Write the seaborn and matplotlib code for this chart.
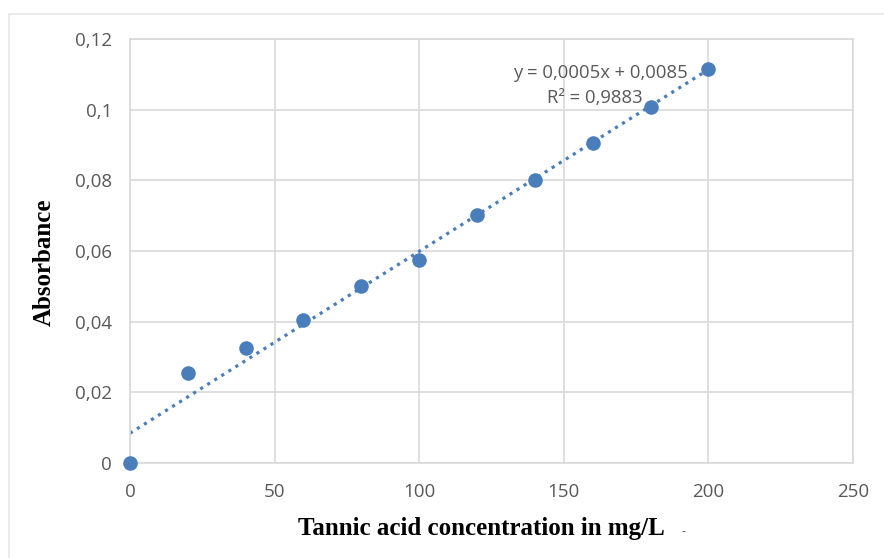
import numpy as np
import matplotlib
matplotlib.use("Agg")
import matplotlib.pyplot as plt
import seaborn as sns

concentration = [0, 20, 40, 60, 80, 100, 120, 140, 160, 180, 200]
absorbance = [0.0, 0.0255, 0.0325, 0.0405, 0.050, 0.0575, 0.0702, 0.080, 0.0906, 0.1008, 0.1115]
x_ticks = [0, 50, 100, 150, 200, 250]
y_ticks = [0, 0.02, 0.04, 0.06, 0.08, 0.10, 0.12]
y_ticklabels = ["0", "0,02", "0,04", "0,06", "0,08", "0,1", "0,12"]
eq_text = "y = 0,0005x + 0,0085"
r2_text = "R² = 0,9883"

sns.set_style("whitegrid")
plt.rcParams['font.family'] = ['Open Sans', 'DejaVu Sans']

blue = "#4A7EBB"
grid_col = "#D9D9D9"
tick_col = "#595959"

fig = plt.figure(figsize=(8.84, 5.58), dpi=100)
ax = fig.add_axes([0.147, 0.170, 0.818, 0.760])

# linear trendline fitted to the data
slope, intercept = np.polyfit(concentration, absorbance, 1)
xs = np.array([concentration[0], concentration[-1]])
ax.plot(xs, slope * xs + intercept, color=blue, linestyle=(0, (1, 1.6)),
        linewidth=2.3, zorder=2)

sns.scatterplot(x=concentration, y=absorbance, ax=ax, color=blue, s=110,
                edgecolor=blue, linewidth=0, zorder=3, clip_on=False)

ax.set_xlim(0, 250)
ax.set_ylim(0, 0.12)
ax.set_xticks(x_ticks)
ax.set_xticklabels([str(t) for t in x_ticks])
ax.set_yticks(y_ticks)
ax.set_yticklabels(y_ticklabels)
ax.tick_params(axis='both', labelsize=13.5, colors=tick_col, length=0)
ax.tick_params(axis='x', pad=14)
ax.tick_params(axis='y', pad=13)
ax.grid(True, color=grid_col, linewidth=1.2)
for sp in ax.spines.values():
    sp.set_color(grid_col)
    sp.set_linewidth(1.2)

ax.set_xlabel("Tannic acid concentration in mg/L", fontsize=18, fontweight='bold',
              family='Liberation Serif', color='black', labelpad=12)
ax.xaxis.label.set_x(0.486)
ax.set_ylabel("Absorbance", fontsize=18, fontweight='bold',
              family='Liberation Serif', color='black', labelpad=14)
ax.yaxis.label.set_y(0.474)

ax.text(162.7, 0.1105, eq_text, fontsize=13.3, color=tick_col, ha='center', va='center')
ax.text(160.7, 0.1032, r2_text, fontsize=13.3, color=tick_col, ha='center', va='center')

fig.text(683 / 884, 1 - 532 / 558, "-", fontsize=9, color=tick_col, ha='center', va='center')

# outer chart frame
frame = plt.Rectangle((9 / 884, -0.02), 1.0, 1 - 14 / 558 + 0.02, transform=fig.transFigure,
                      fill=False, edgecolor="#E6E6E6", linewidth=1.2)
fig.patches.append(frame)

fig.savefig("out.png", dpi=100)
